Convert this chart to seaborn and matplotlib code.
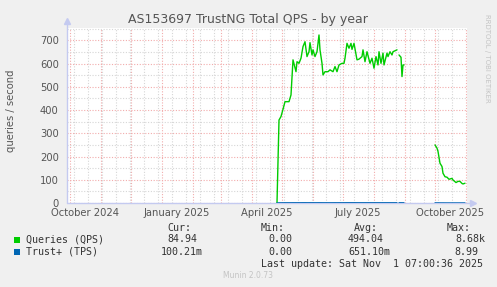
import numpy as np
import pandas as pd
import matplotlib
matplotlib.use("Agg")
import matplotlib.pyplot as plt
from matplotlib.patches import Rectangle
import seaborn as sns

# ---------------- data ----------------
dates = [
    "2025-04-26", "2025-04-28", "2025-04-30", "2025-05-02", "2025-05-04", "2025-05-08",
    "2025-05-10", "2025-05-12", "2025-05-15", "2025-05-16", "2025-05-18", "2025-05-20",
    "2025-05-22", "2025-05-24", "2025-05-26", "2025-05-28", "2025-05-29", "2025-05-31",
    "2025-06-01", "2025-06-03", "2025-06-05", "2025-06-07", "2025-06-08", "2025-06-10",
    "2025-06-11", "2025-06-13", "2025-06-16", "2025-06-18", "2025-06-21", "2025-06-23",
    "2025-06-25", "2025-06-27", "2025-06-30", "2025-07-02", "2025-07-03", "2025-07-05",
    "2025-07-07", "2025-07-09", "2025-07-10", "2025-07-12", "2025-07-15", "2025-07-17",
    "2025-07-20", "2025-07-21", "2025-07-23", "2025-07-25", "2025-07-28", "2025-07-30",
    "2025-08-01", "2025-08-03", "2025-08-05", "2025-08-06", "2025-08-08", "2025-08-10",
    "2025-08-11", "2025-08-14", "2025-08-15", "2025-08-17", "2025-08-19", "2025-08-20",
    "2025-08-22", "2025-08-24", "2025-08-25", "2025-08-26", "2025-08-28", "2025-08-29",
    "2025-08-30", "2025-08-31", "2025-09-15", "2025-10-01", "2025-10-03", "2025-10-04",
    "2025-10-06", "2025-10-08", "2025-10-09", "2025-10-11", "2025-10-13", "2025-10-15",
    "2025-10-18", "2025-10-19", "2025-10-22", "2025-10-24", "2025-10-26", "2025-10-28",
    "2025-10-29", "2025-10-31",
]
queries_qps = [
    0, 357, 372, 403, 436, 436,
    465, 616, 565, 608, 601, 623,
    673, 694, 630, 651, 690, 637,
    659, 630, 651, 723, 659, 601,
    551, 565, 565, 573, 565, 587,
    565, 594, 601, 601, 623, 687,
    666, 687, 661, 687, 616, 619,
    630, 659, 608, 651, 601, 623,
    580, 630, 594, 651, 601, 645,
    594, 645, 630, 651, 637, 651,
    655, 659, np.nan, 637, 627, 544,
    594, 594, np.nan, 250, 236, 222,
    171, 157, 128, 113, 111, 102,
    106, 99, 88, 93, 93, 84,
    82, 85,
]
trust_tps = [
    0.0, 0.5, 0.6, 0.6, 0.7, 0.7,
    0.7, 0.8, 0.8, 0.8, 0.8, 0.8,
    0.9, 0.9, 0.8, 0.8, 0.9, 0.8,
    0.8, 0.8, 0.8, 0.9, 0.8, 0.8,
    0.7, 0.7, 0.7, 0.7, 0.7, 0.8,
    0.7, 0.8, 0.8, 0.8, 0.8, 0.9,
    0.9, 0.9, 0.9, 0.9, 0.8, 0.8,
    0.8, 0.8, 0.8, 0.8, 0.8, 0.8,
    0.8, 0.8, 0.8, 0.8, 0.8, 0.8,
    0.8, 0.8, 0.8, 0.8, 0.8, 0.8,
    0.8, 0.8, np.nan, 0.8, 0.8, 0.7,
    0.8, 0.8, np.nan, 0.3, 0.3, 0.3,
    0.2, 0.2, 0.2, 0.1, 0.1, 0.1,
    0.1, 0.1, 0.1, 0.1, 0.1, 0.1,
    0.1, 0.1,
]

series_names = ["Queries (QPS)", "Trust+ (TPS)"]
series_colors = ["#00CC00", "#0066B3"]
col_headers = ["Cur:", "Min:", "Avg:", "Max:"]
stats_qps = ["84.94", "0.00", "494.04", "8.68k"]
stats_tps = ["100.21m", "0.00", "651.10m", "8.99"]
x_labels = ["October 2024", "January 2025", "April 2025", "July 2025", "October 2025"]
x_label_dates = ["2024-10-16", "2025-01-16", "2025-04-16", "2025-07-16", "2025-10-16"]
y_ticks = [0, 100, 200, 300, 400, 500, 600, 700]

title = "AS153697 TrustNG Total QPS - by year"
ylabel = "queries / second"
last_update = "Last update: Sat Nov  1 07:00:36 2025"
footer = "Munin 2.0.73"
side_text = "RRDTOOL / TOBI OETIKER"

# ---------------- figure ----------------
W, H = 497, 287
sns.set_style("white")
plt.rcParams["font.family"] = ["DejaVu Sans"]

fig = plt.figure(figsize=(W / 100, H / 100), dpi=100, facecolor="#F0F0F0")
ax = fig.add_axes([67 / W, (H - 203) / H, 400 / W, 175 / H])
ax.set_facecolor("#FFFFFF")

xmin, xmax = pd.Timestamp("2024-09-28"), pd.Timestamp("2025-11-02")
ax.set_xlim(xmin, xmax)
ax.set_ylim(0, 753)

major_c = "#F2ACAC"
minor_c = "#D6D6D6"
axis_c = "#C4CAF0"
text_c = "#555555"

# grid
months = pd.date_range("2024-10-01", "2025-11-01", freq="MS")
weeks2 = pd.date_range("2024-10-05", "2025-11-01", freq="14D")
ax.set_xticks(months)
ax.set_xticks(weeks2, minor=True)
ax.set_yticks(y_ticks)
ax.set_yticks([v + 50 for v in y_ticks], minor=True)
ax.grid(which="major", color=major_c, linestyle=(0, (1, 1.5)), linewidth=0.8)
ax.grid(which="minor", color=minor_c, linestyle=(0, (1, 1.5)), linewidth=0.8)
ax.set_axisbelow(True)
ax.tick_params(axis="x", which="both", labelbottom=False, length=3, width=0.8)
ax.tick_params(axis="x", which="major", color=major_c)
ax.tick_params(axis="x", which="minor", color=minor_c)
ax.tick_params(axis="y", which="major", length=3, width=0.8, color=major_c,
               labelsize=7.2, labelcolor=text_c, pad=3)
ax.tick_params(axis="y", which="minor", length=3, width=0.8, color=minor_c)

# data
df = pd.DataFrame({"date": pd.to_datetime(dates), "qps": queries_qps, "tps": trust_tps})
for col, color in zip(["qps", "tps"], series_colors):
    sub = df[["date", col]].copy()
    sub["seg"] = sub[col].isna().cumsum()
    sub = sub.dropna()
    sns.lineplot(data=sub, x="date", y=col, units="seg", estimator=None,
                 color=color, linewidth=1.0, ax=ax, legend=False)

ax.set_xlabel("")
ax.set_ylabel("")

# axes lines + arrows
for s in ["top", "right", "left", "bottom"]:
    ax.spines[s].set_visible(False)
ax.plot([0, 0], [0, 1.03], transform=ax.transAxes, color=axis_c, lw=1, clip_on=False)
ax.plot([0, 1.012], [0, 0], transform=ax.transAxes, color=axis_c, lw=1, clip_on=False, zorder=1)
ax.plot([0], [1.04], marker="^", ms=4.5, color=axis_c, transform=ax.transAxes, clip_on=False)
ax.plot([1.015], [0], marker=">", ms=4.5, color=axis_c, transform=ax.transAxes, clip_on=False)

# x labels at mid-month
for lab, d in zip(x_labels, x_label_dates):
    ax.text(pd.Timestamp(d), -10.5 / 175, lab, transform=ax.get_xaxis_transform(),
            ha="center", va="center", fontsize=7.2, color=text_c)


def ftext(x, y, s, **kw):
    fig.text(x / W, 1 - y / H, s, **kw)


ftext(248, 19, title, ha="center", va="center", fontsize=9, color=text_c)
ftext(11, 111, ylabel, ha="center", va="center", rotation=90, fontsize=7.2, color=text_c)
ftext(487, 58, side_text, ha="center", va="center", rotation=-90, fontsize=5, color="#C4C4C4")
ftext(248, 276, footer, ha="center", va="center", fontsize=5.5, color="#C4C4C4")

mono = dict(family="DejaVu Sans Mono", fontsize=7.2, color="#333333", va="center", ha="left")
header_x = [167, 261, 354, 447]
for h, x in zip(col_headers, header_x):
    ftext(x, 228, h, **mono)

row_y = [239.5, 252]
stat_x = [[167, 268, 348, 455], [161, 268, 348, 454]]
for name, color, stats, xs, y in zip(series_names, series_colors, [stats_qps, stats_tps], stat_x, row_y):
    fig.add_artist(Rectangle((14 / W, 1 - (y + 3) / H), 6 / W, 6 / H,
                             transform=fig.transFigure, color=color, lw=0))
    ftext(26, y, name, **mono)
    for s, x in zip(stats, xs):
        ftext(x, y, s, **mono)

ftext(261, 264, last_update, **mono)

fig.savefig("out.png", dpi=100, facecolor=fig.get_facecolor())
